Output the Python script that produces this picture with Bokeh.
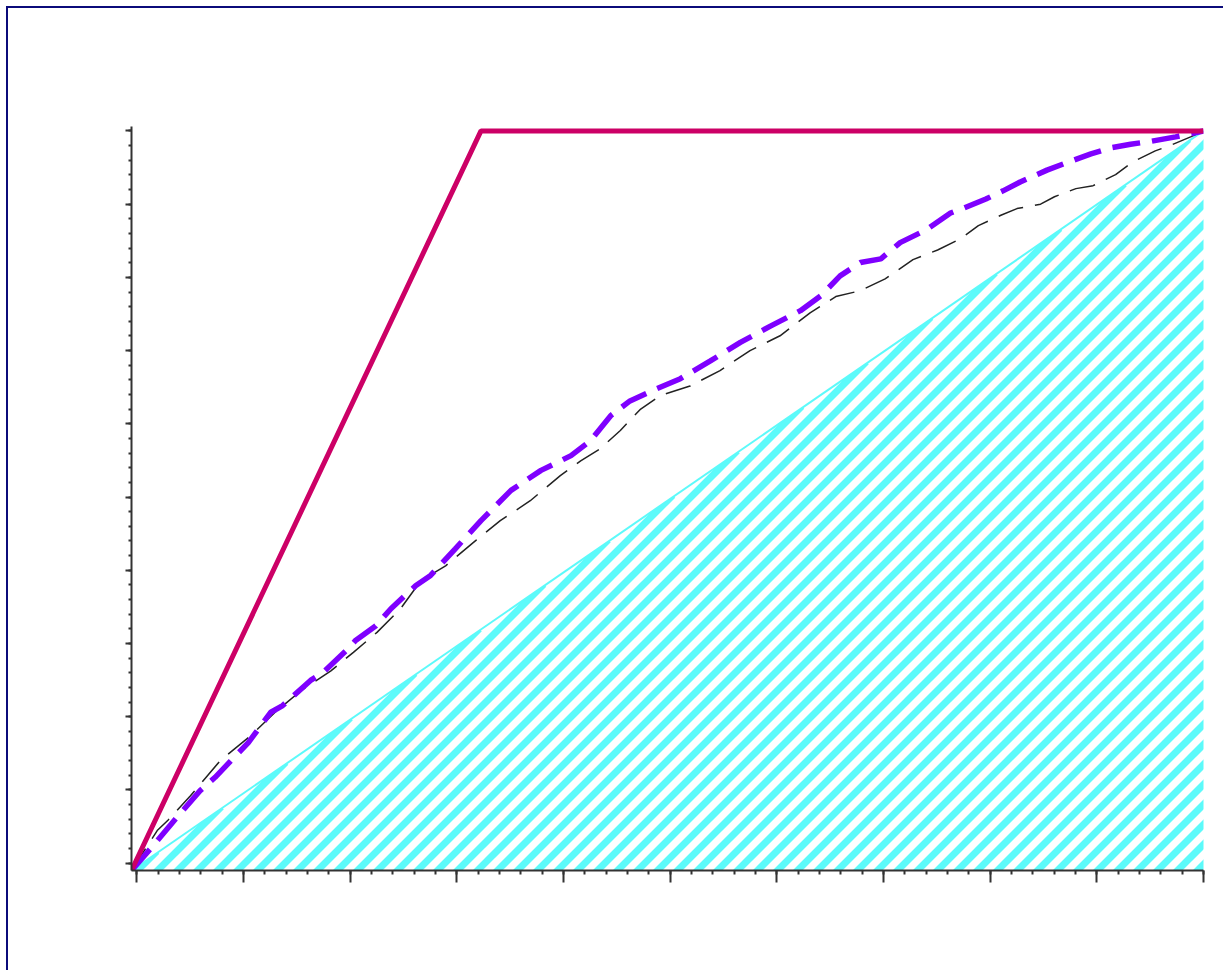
import numpy as np
from bokeh.plotting import figure
from bokeh.models import Range1d, FixedTicker, CustomJSTickFormatter
from bokeh.embed import file_html
from bokeh.resources import INLINE

# ---- data ----
perfect_x = [0.0, 0.326, 1.0]
perfect_y = [0.0, 1.0, 1.0]

baseline_x = [0.0, 1.0]
baseline_y = [0.0, 1.0]

model_a_x = [0.0, 0.018, 0.046, 0.064, 0.078, 0.109, 0.130, 0.141, 0.167, 0.179, 0.200, 0.209,
             0.228, 0.242, 0.265, 0.279, 0.302, 0.326, 0.354, 0.382, 0.410, 0.428, 0.447, 0.465,
             0.489, 0.512, 0.540, 0.568, 0.596, 0.624, 0.643, 0.661, 0.680, 0.699, 0.717, 0.741,
             0.764, 0.777, 0.797, 0.813, 0.829, 0.854, 0.876, 0.895, 0.913, 0.932, 0.951, 0.974, 1.0]
model_a_y = [0.0, 0.030, 0.078, 0.108, 0.126, 0.173, 0.214, 0.223, 0.257, 0.268, 0.297, 0.311,
             0.331, 0.354, 0.385, 0.399, 0.435, 0.473, 0.514, 0.541, 0.561, 0.581, 0.615, 0.635,
             0.651, 0.665, 0.689, 0.714, 0.736, 0.757, 0.777, 0.804, 0.822, 0.827, 0.849, 0.866,
             0.889, 0.896, 0.908, 0.919, 0.931, 0.947, 0.959, 0.969, 0.977, 0.982, 0.986, 0.992, 1.0]

model_b_x = [0.0, 0.024, 0.034, 0.055, 0.083, 0.111, 0.134, 0.158, 0.186, 0.207, 0.229, 0.251,
             0.270, 0.293, 0.321, 0.344, 0.372, 0.400, 0.419, 0.437, 0.456, 0.475, 0.493, 0.521,
             0.549, 0.577, 0.605, 0.633, 0.657, 0.680, 0.703, 0.729, 0.752, 0.773, 0.790, 0.811,
             0.826, 0.848, 0.861, 0.881, 0.897, 0.918, 0.934, 0.955, 0.970, 0.988, 1.0]
model_b_y = [0.0, 0.054, 0.068, 0.101, 0.149, 0.182, 0.214, 0.243, 0.270, 0.295, 0.322, 0.354,
             0.392, 0.412, 0.446, 0.473, 0.500, 0.534, 0.554, 0.570, 0.595, 0.624, 0.642, 0.655,
             0.676, 0.703, 0.723, 0.754, 0.776, 0.784, 0.800, 0.826, 0.839, 0.854, 0.872, 0.886,
             0.895, 0.901, 0.911, 0.922, 0.926, 0.941, 0.958, 0.973, 0.981, 0.992, 1.0]

# ---- layout constants ----
FRAME_W, FRAME_H = 1072, 744
Y_END = 1.006
p = figure(width=1217, height=964, output_backend="svg", toolbar_location=None,
           x_range=Range1d(0, 1), y_range=Range1d(0, Y_END),
           min_border_left=123, min_border_right=22, min_border_top=118, min_border_bottom=102)
p.styles = {"margin": "6px 0 0 6px",
            "border-left": "2px solid #0b0b7a",
            "border-top": "2px solid #0b0b7a"}
p.background_fill_color = "white"
p.border_fill_color = "white"
p.outline_line_color = None
p.grid.visible = False

CYAN = "#5cfafa"

# ---- 45-degree hatch stripes under the random baseline (decoration) ----
sx = FRAME_W / 1.0
sy = FRAME_H / Y_END
k = sx / sy                      # slope in data units of a 45deg screen line
step = 20.0 / sx                 # 20 px horizontal period
ext_px = 6.0
x0s, y0s, x1s, y1s = [], [], [], []
for c in np.arange(step * 0.3, 1.0 + step, step):
    xs = c - (10.0 / sy) / k     # start slightly below y=0
    ys = -10.0 / sy
    xi = k * c / (k - 1)
    if xi <= 1.0:
        xe, ye = xi + ext_px / sx, xi + ext_px / sy
    else:
        xe, ye = 1.0 + 10.0 / sx, k * (1.0 + 10.0 / sx - c)
    x0s.append(xs); y0s.append(ys); x1s.append(xe); y1s.append(ye)
p.segment(x0s, y0s, x1s, y1s, line_color=CYAN, line_width=7)
# mask stripe overshoot above the diagonal
p.patch([0.0, 0.0, 1.0, 1.0], [0.0, 1.2, 1.2, 1.0], fill_color="white", line_color=None)
p.line(baseline_x, baseline_y, line_color=CYAN, line_width=2)

# model curves
p.line(model_b_x, model_b_y, line_color="#222222", line_width=1.5, line_dash="26 12")
p.line(model_a_x, model_a_y, line_color="#7f00ff", line_width=5.5, line_dash="28 12")

# perfect model
p.line(perfect_x, perfect_y, line_color="#cc0066", line_width=5)

# axes
xt = [1 - i * 0.0995 for i in range(11)]
xm = [1 - i * 0.0199 for i in range(51)]
yt = [1 - i * 0.099 for i in range(11)]
ym = [1 - i * 0.0198 for i in range(51)]
p.xaxis.ticker = FixedTicker(ticks=xt, minor_ticks=xm)
p.yaxis.ticker = FixedTicker(ticks=yt, minor_ticks=ym)
for ax in (p.xaxis, p.yaxis):
    ax.axis_line_color = "#333333"
    ax.axis_line_width = 2
    ax.major_tick_line_color = "#333333"
    ax.minor_tick_line_color = "#333333"
    ax.major_tick_line_width = 2
    ax.minor_tick_line_width = 2
    ax.major_tick_in = 0
    ax.minor_tick_in = 0
    ax.formatter = CustomJSTickFormatter(code="return ''")
p.xaxis.major_tick_out = 12
p.xaxis.minor_tick_out = 4
p.yaxis.major_tick_out = 6
p.yaxis.minor_tick_out = 3

open("out.html", "w").write(file_html(p, INLINE))
